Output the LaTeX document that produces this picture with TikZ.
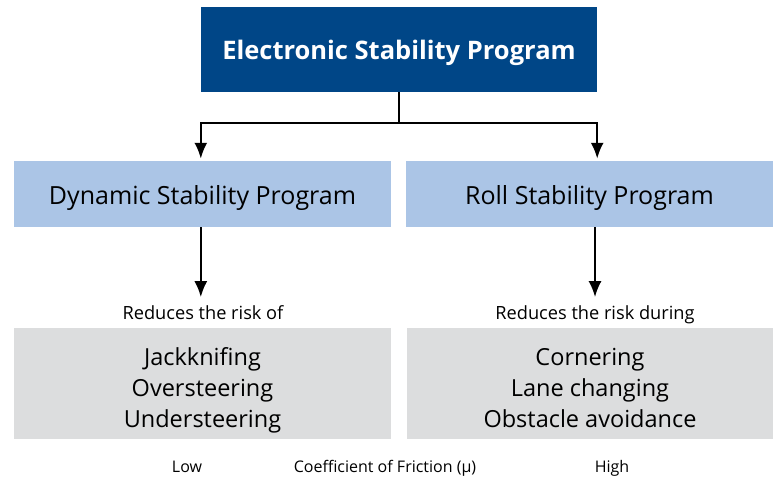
\documentclass[tikz,border=0pt]{standalone}
\usepackage{fontspec}
\setmainfont{Open Sans}
\usepackage{tikz}
\usetikzlibrary{calc, arrows.meta, positioning}
\tikzset{>={Latex[length=16pt, width=13pt]}}
\definecolor{espblue}{RGB}{0, 70, 135}
\definecolor{progblue}{RGB}{171, 197, 230}
\definecolor{riskgray}{RGB}{220, 221, 222}
\newcommand{\risklist}[1]{\raisebox{0pt}[\dimexpr\height+13pt\relax]{\begin{tabular}{@{}c@{}}#1\end{tabular}}}

\begin{document}
\begin{tikzpicture}[x=1pt, y=-1pt,
  topbox/.style = {fill=espblue, text=white, minimum width=396pt, minimum height=85pt, inner sep=0pt, text height=26pt, text depth=7pt, font=\fontsize{25.5}{30}\selectfont\bfseries},
  progbox/.style = {fill=progblue, minimum height=66pt, inner sep=0pt, text height=26pt, text depth=5.5pt, font=\fontsize{25}{30}\selectfont},
  riskbox/.style = {fill=riskgray, minimum height=111pt, inner sep=0pt, font=\fontsize{23.5}{31}\selectfont},
  risknote/.style = {inner sep=0pt, font=\fontsize{18.2}{22}\selectfont},
  small/.style = {inner sep=0pt, font=\fontsize{16}{20}\selectfont},
  link/.style = {line width=2.4pt}]
\useasboundingbox (0,0) rectangle (773,477);
\node[topbox] (esp) at (399, 49.5) {Electronic Stability Program};
\node[progbox, minimum width=377pt] (dsp) at (202.5, 194) {Dynamic Stability Program};
\node[progbox, minimum width=367pt] (rsp) at (589.5, 194) {Roll Stability Program};
\node[risknote, anchor=base] (risk1) at (203, 319) {Reduces the risk of};
\node[risknote, anchor=base] (risk2) at (595, 319) {Reduces the risk during};
\node[riskbox, minimum width=377pt] (list1) at (202.5, 383.5) {\risklist{Jackknifing\\Oversteering\\Understeering}};
\node[riskbox, minimum width=366pt] (list2) at (590, 383.5) {\risklist{Cornering\\Lane changing\\Obstacle avoidance}};
\node[small, anchor=base] (low) at (187, 472) {Low};
\node[small, anchor=base] (mu) at (385, 472) {Coefficient of Friction (µ)};
\node[small, anchor=base] (high) at (612, 472) {High};
% connectors
\draw[link] (esp.south) -- ++(0,31) coordinate (split);
\draw[link, ->] (split) -| ($(esp.south west |- dsp.north)+(0,-2)$);
\draw[link, ->] (split) -| ($(esp.south east |- rsp.north)+(0,-2)$);
\draw[link, ->] (dsp.south -| esp.south west) -- ++(0,70);
\draw[link, ->] (risk2.north |- rsp.south) -- ++(0,70);
\end{tikzpicture}
\end{document}
